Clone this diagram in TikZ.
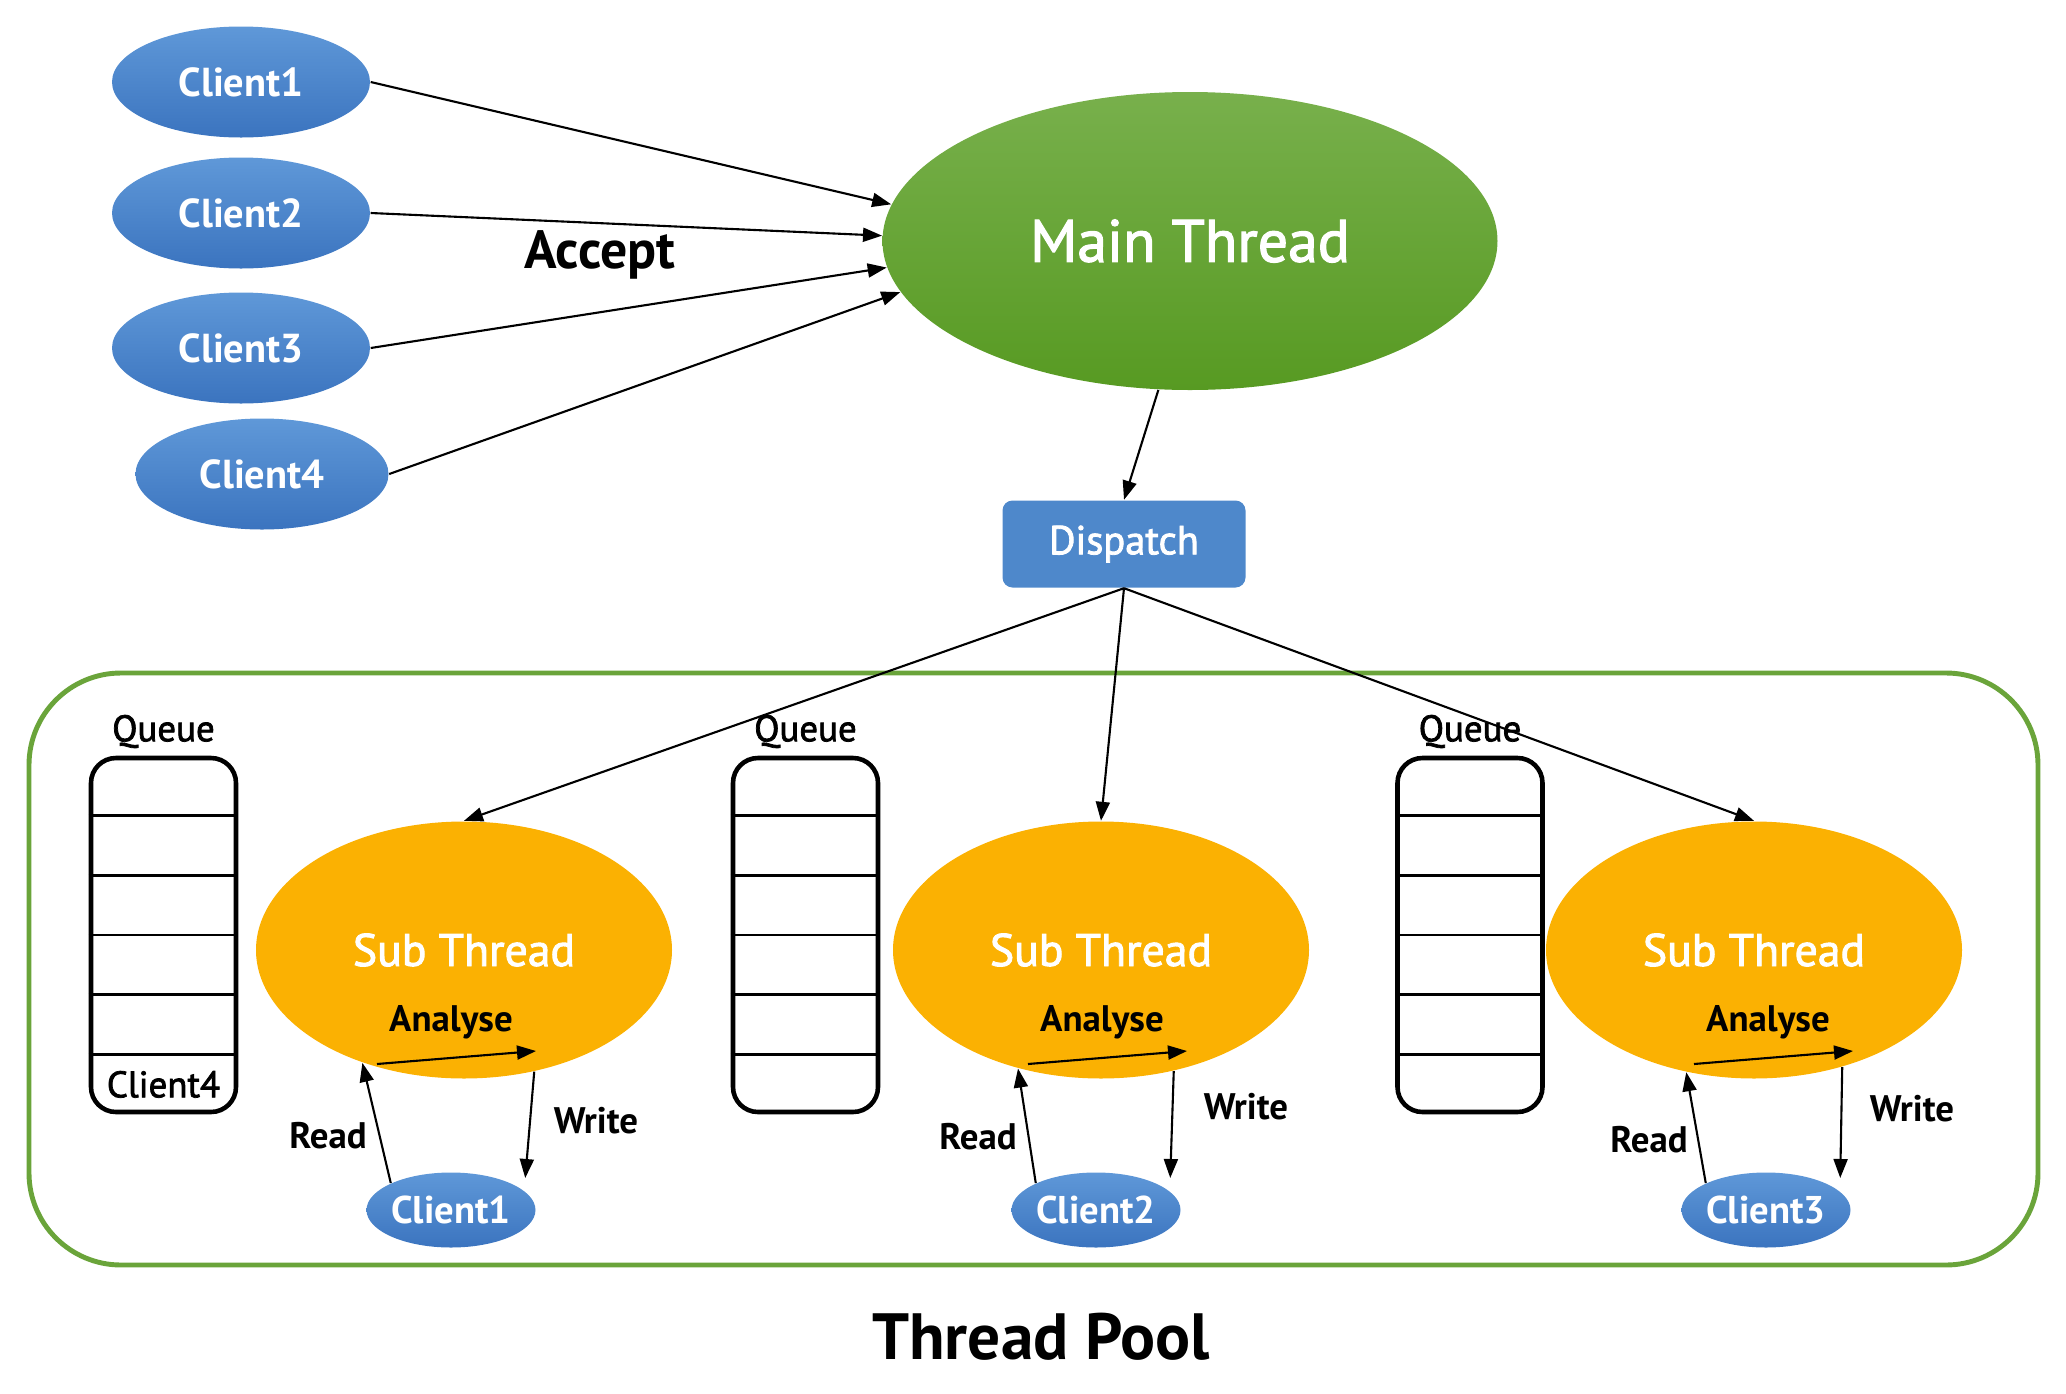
\documentclass[tikz,border=0pt]{standalone}
\usepackage{fontspec}
\setmainfont{PT Sans}
\newfontfamily\medfont[FakeBold=2]{PT Sans}
\usetikzlibrary{shapes.geometric, arrows.meta, positioning, calc}

\definecolor{cltop}{HTML}{5F98D8}
\definecolor{clbot}{HTML}{3B74BF}
\definecolor{mntop}{HTML}{78B04C}
\definecolor{mnbot}{HTML}{579A22}
\definecolor{suborange}{HTML}{FBB102}
\definecolor{dsblue}{HTML}{4E88CB}
\definecolor{poolgreen}{HTML}{6AA43A}

\begin{document}
\begin{tikzpicture}[
		c/.style = {ellipse, inner sep=0, top color=cltop, bottom color=clbot, text=white, font=\bfseries\fontsize{11.5}{13}\selectfont, minimum width=2.58cm, minimum height=1.11cm},
		m/.style = {ellipse, inner sep=0, top color=mntop, bottom color=mnbot, text=white, font=\medfont\fontsize{17}{20}\selectfont, minimum width=6.15cm, minimum height=2.98cm},
		t/.style = {ellipse, inner sep=0, fill=suborange, text=white, font=\medfont\fontsize{13}{16}\selectfont, minimum width=4.16cm, minimum height=2.57cm},
		d/.style = {rectangle, rounded corners=0.1cm, fill=dsblue, text=white, font=\medfont\fontsize{11.5}{14}\selectfont, minimum width=2.43cm, minimum height=0.87cm},
		q/.style = {rectangle, rounded corners=0.25cm, draw, line width=1.3pt, minimum width=1.45cm, minimum height=3.54cm},
		w/.style = {font=\medfont\fontsize{10.5}{13}\selectfont},
		l/.style = {font=\bfseries\fontsize{10.5}{13}\selectfont},
		r/.style = {-{Triangle[length=1.9mm, width=1.4mm]}, line width=0.6pt},
		]
		\useasboundingbox (0,0) rectangle (20.66,-13.94);
		
		% === === Nodes === ===
		\node[c]	(c1)	at	(2.41, -0.82)	{Client1};
		\node[c]	(c2)	at	(2.41, -2.13)	{Client2};
		\node[c]	(c3)	at	(2.41, -3.48)	{Client3};
		\node[c, minimum width=2.53cm]	(c4)	at	(2.62, -4.74)	{Client4};
		\node[m]	(main)	at	(11.90, -2.41)	{Main Thread};
		\node[d]	(disp)	at	(11.24, -5.44)	{Dispatch};
		\node[font=\bfseries\fontsize{15.3}{18}\selectfont]	(acc)	at	(6.00, -2.55)	{Accept};
		
		% thread pool
		\draw[poolgreen, line width=1.4pt, rounded corners=0.92cm]	(0.29, -6.73) rectangle (20.38, -12.65);
		\node[font=\bfseries\fontsize{18.6}{22}\selectfont]	(pool)	at	(10.41, -13.37)	{Thread Pool};
		
		% queues
		\foreach \j/\x in {1/1.635, 2/8.055, 3/14.70} {
			\node[q]	(q\j)	at	(\x, -9.35)	{};
			\node[w, inner sep=0, above=0.07cm of q\j]	(ql\j)	{Queue};
			\foreach \k in {1,...,5}
				\draw[line width=0.8pt] ($(q\j.north west)!\k/6!(q\j.south west)$) -- ($(q\j.north east)!\k/6!(q\j.south east)$);
		}
		\node[w]	(qc4)	at	($(q1.north)!11/12!(q1.south)$)	{Client4};
		
		% sub threads
		\foreach \i/\x/\cx/\ax/\ra/\wa/\rx/\ry/\wx/\wy in {1/4.64/-0.13/-0.13/228/300/-1.36/-1.86/1.32/-1.71,
				2/11.01/-0.05/0.01/235/301/-1.23/-1.87/1.45/-1.57,
				3/17.54/0.12/0.14/241/307/-1.05/-1.90/1.58/-1.59} {
			\node[t]	(s\i)	at	(\x, -9.50)	{Sub Thread};
			\node[c, font=\bfseries\fontsize{11}{13}\selectfont, minimum width=1.63cm, minimum height=0.75cm]	(k\i)	at	($(s\i)+(\cx,-2.60)$)	{Client\i};
			\node[l]	(an\i)	at	($(s\i)+(\ax,-0.72)$)	{Analyse};
			\coordinate	(a\i)	at	($(s\i)+(\ax-0.74,-1.14)$);
			\coordinate	(b\i)	at	($(s\i)+(\ax+0.85,-1.01)$);
			\node[l]	(rd\i)	at	($(s\i)+(\rx,\ry)$)	{Read};
			\node[l]	(wr\i)	at	($(s\i)+(\wx,\wy)$)	{Write};
			
			\draw[r]	(a\i)	--	(b\i);
			\draw[r]	(k\i.north west)	--	(s\i.\ra);
			\draw[r]	(s\i.\wa)	--	($(k\i.north east)+(0.14,0.05)$);
			\draw[r]	(disp.south)	--	(s\i.north);
		}
		
		% === === Connectors === ===
		\draw[r]	(c1.east)	--	(main.173);
		\draw[r]	(c2.east)	--	(main.179);
		\draw[r]	(c3.east)	--	(main.185);
		\draw[r]	(c4.east)	--	(main.190);
		\draw[r]	(main.258)	--	(disp.north);
		
	\end{tikzpicture}
\end{document}
